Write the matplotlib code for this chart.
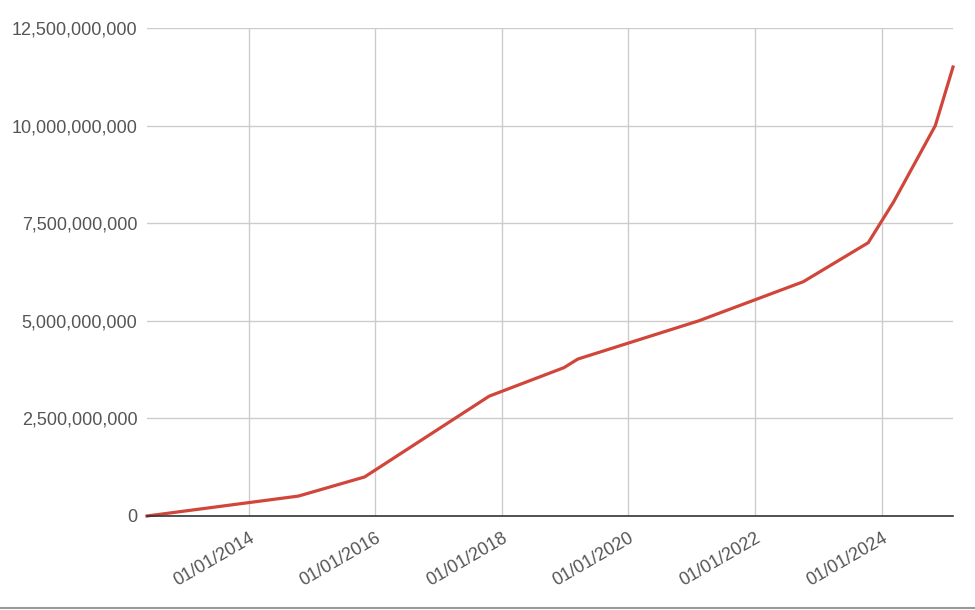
import matplotlib
matplotlib.use("Agg")
import matplotlib.pyplot as plt
import matplotlib.dates as mdates
from matplotlib.ticker import FuncFormatter, FixedLocator
from matplotlib.lines import Line2D
import pandas as pd

dates = ["2012-05-25", "2014-10-15", "2015-11-01", "2017-10-20", "2018-12-25",
         "2019-03-15", "2021-02-10", "2022-10-05", "2023-10-15", "2024-03-10",
         "2024-11-05", "2025-02-15"]
values = [0, 0.51e9, 1.0e9, 3.07e9, 3.8e9, 4.02e9, 5.0e9, 6.0e9, 7.0e9, 8.05e9,
          10.0e9, 11.5e9]
y_ticks = [0, 2.5e9, 5e9, 7.5e9, 10e9, 12.5e9]
x_ticks = ["2014-01-01", "2016-01-01", "2018-01-01", "2020-01-01", "2022-01-01", "2024-01-01"]

plt.rcParams['font.family'] = ['Liberation Sans', 'DejaVu Sans']

x = pd.to_datetime(dates)
fig = plt.figure(figsize=(9.75, 6.1), dpi=100)
W, H = 975, 610
ax = fig.add_axes([147 / W, 1 - 516 / H, (953 - 147) / W, (516 - 28) / H])

ax.plot(x, values, color="#d0463a", lw=2.3, solid_joinstyle="round", zorder=3, clip_on=False)

ax.set_xlim(x[0], x[-1])
ax.set_ylim(0, 12.5e9)
ax.yaxis.set_major_locator(FixedLocator(y_ticks))
ax.yaxis.set_major_formatter(FuncFormatter(lambda v, p: f"{int(round(v)):,}"))
ax.xaxis.set_major_locator(FixedLocator(mdates.date2num(pd.to_datetime(x_ticks))))
ax.xaxis.set_major_formatter(mdates.DateFormatter("%d/%m/%Y"))

ax.grid(True, color="#cccccc", lw=1)
ax.set_axisbelow(True)
for s in ["top", "right", "left"]:
    ax.spines[s].set_visible(False)
ax.spines["bottom"].set_color("#333333")
ax.spines["bottom"].set_linewidth(1.2)
ax.spines["bottom"].set_zorder(4)
ax.tick_params(axis="both", length=0, labelsize=13, labelcolor="#555555")
ax.tick_params(axis="y", pad=7)
ax.tick_params(axis="x", pad=10)
for lab in ax.get_xticklabels():
    lab.set_rotation(30)
    lab.set_ha("right")
    lab.set_rotation_mode("anchor")

fig.add_artist(Line2D([0, 1], [1 - 607.5 / H, 1 - 607.5 / H], color="#999999", lw=1.5,
                      transform=fig.transFigure))

fig.savefig("out.png", dpi=100, facecolor="white")
